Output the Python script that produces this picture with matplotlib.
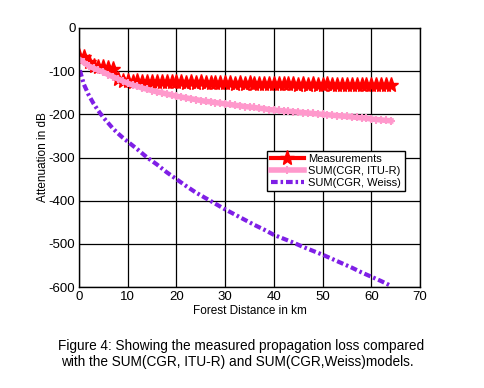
import matplotlib
matplotlib.use('Agg')
import matplotlib.pyplot as plt

plt.rcParams['font.family'] = ['Liberation Sans', 'DejaVu Sans']
plt.rcParams['axes.unicode_minus'] = False

# Measurements, one point per km
meas_x = list(range(0, 65))
meas_y = [-65, -68, -78, -88, -90, -91, -92, -94, -118, -122,
          -123, -124, -123, -125, -124, -125, -124, -126, -125, -126,
          -125, -126, -127, -126, -127, -126, -127, -128, -127, -128,
          -127, -128, -129, -128, -129, -128, -129, -130, -129, -130,
          -129, -130, -130, -129, -130, -131, -130, -131, -130, -131,
          -131, -130, -131, -132, -131, -132, -131, -132, -132, -131,
          -132, -133, -132, -133, -132]

# SUM(CGR, ITU-R)
itu_x = list(range(0, 65))
itu_y = [-72, -80, -88, -93, -98, -102, -108, -113, -118, -123,
         -128, -132, -135, -139, -142, -145, -148, -150, -153, -155,
         -158, -160, -162, -164, -166, -168, -170, -171, -173, -174,
         -176, -177, -179, -180, -182, -183, -184, -186, -187, -189,
         -190, -191, -192, -193, -194, -195, -196, -197, -198, -199,
         -200, -201, -202, -203, -204, -205, -206, -207, -208, -209,
         -211, -212, -213, -214, -215]

# SUM(CGR, Weiss)
weiss_x = [0.2, 1, 2, 3, 4, 5, 6, 7, 8, 9, 10, 12, 14, 16, 18, 20, 22, 24, 26,
           28, 30, 32, 34, 36, 38, 40, 42, 44, 46, 48, 50, 52, 54, 56, 58,
           60, 62, 64]
weiss_y = [-98, -130, -155, -175, -192, -207, -220, -233, -244, -254, -263,
           -281, -300, -316, -334, -350, -366, -381, -394, -407, -420, -432,
           -444, -456, -467, -479, -488, -497, -507, -516, -525, -535, -545,
           -555, -566, -576, -586, -597]

fig = plt.figure(figsize=(4.84, 3.88), dpi=100)
ax = fig.add_axes([0.163, 0.260, 0.705, 0.668])

ax.plot(meas_x, meas_y, color='red', lw=3, marker='*', ms=11,
        label='Measurements')
ax.plot(itu_x, itu_y, color='#FF99CC', lw=4, marker='+', ms=6, mew=1.5,
        label='SUM(CGR, ITU-R)')
ax.plot(weiss_x, weiss_y, color='#7F1FE6', lw=3,
        dashes=(1.6, 0.7, 0.6, 0.7), label='SUM(CGR, Weiss)')

ax.set_xlim(0, 70)
ax.set_ylim(-600, 0)
ax.set_xticks(range(0, 71, 10))
ax.set_yticks(range(-600, 1, 100))
ax.grid(True, color='black', lw=0.9)
ax.tick_params(length=0, labelsize=9.5, pad=2.5)
for s in ax.spines.values():
    s.set_linewidth(1)

ax.set_xlabel('Forest Distance in km', fontsize=8.5, labelpad=2)
ax.set_ylabel('Attenuation in dB', fontsize=8.5, labelpad=0)

leg = ax.legend(loc='upper left', bbox_to_anchor=(0.552, 0.525),
                fontsize=8, handlelength=3, fancybox=False, framealpha=1,
                edgecolor='black', borderpad=0.3, labelspacing=0.15,
                handletextpad=0.4, borderaxespad=0)
leg.get_frame().set_linewidth(1)

fig.text(0.12, 1 - 346 / 388, 'Figure 4: Showing the measured propagation loss compared',
         fontsize=9.8, va='center', ha='left')
fig.text(0.126, 1 - 362 / 388, 'with the SUM(CGR, ITU-R) and SUM(CGR,Weiss)models.',
         fontsize=9.8, va='center', ha='left')

fig.savefig('out.png', dpi=100)
